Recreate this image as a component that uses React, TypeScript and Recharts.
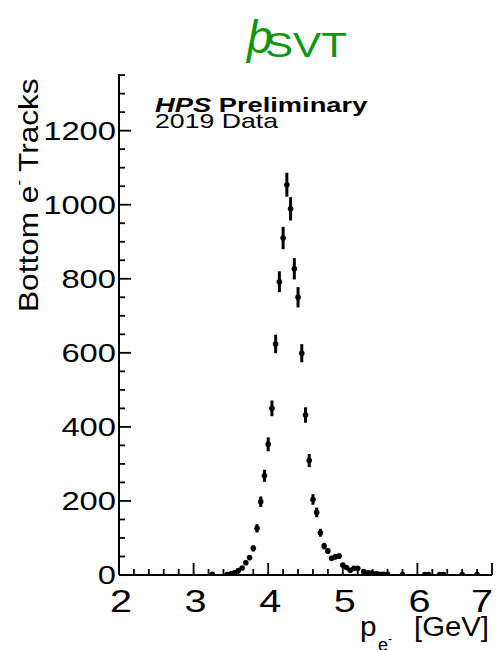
import { ScatterChart, Scatter, XAxis, YAxis, ErrorBar } from 'recharts';

// Bin centres of the electron momentum histogram [GeV]
const momentum = [
  3.25, 3.45, 3.5, 3.55, 3.6, 3.65, 3.7, 3.75, 3.8, 3.85, 3.9, 3.95,
  4.0, 4.05, 4.1, 4.15, 4.2, 4.25, 4.3, 4.35, 4.4, 4.45, 4.5, 4.55,
  4.6, 4.65, 4.7, 4.75, 4.8, 4.85, 4.9, 4.95, 5.0, 5.05, 5.1, 5.15,
  5.2, 5.28, 5.34, 5.39, 5.45, 5.5, 5.55, 5.6, 5.8, 6.1, 6.15, 6.3,
  6.35, 6.6, 6.8,
];

// Bottom-half e- track counts per bin
const tracks = [
  2, 1, 3, 6, 12, 19, 33, 47, 72, 126, 198, 268,
  353, 450, 624, 792, 910, 1054, 989, 827, 750, 599, 432, 309,
  204, 169, 114, 78, 65, 45, 49, 51, 27, 20, 13, 18,
  18, 9, 6, 5, 3, 2, 2, 2, 1, 1, 1, 1,
  1, 1, 1,
];

const xMajor = [2, 3, 4, 5, 6, 7];
const yMajor = [0, 200, 400, 600, 800, 1000, 1200];
const X_DOMAIN: [number, number] = [2, 7];
const Y_DOMAIN: [number, number] = [0, 1353];

// minor ticks every 0.2 GeV and every 50 tracks
const xTicks = Array.from({ length: 26 }, (_, i) => Math.round((2 + i * 0.2) * 10) / 10);
const yTicks = Array.from({ length: 28 }, (_, i) => i * 50);

// Poisson errors, as the histogram draws them
const points = momentum.map((p, i) => ({ p, n: tracks[i], err: Math.sqrt(tracks[i]) }));

const FONT = '"Liberation Sans", Arial, Helvetica, sans-serif';
const GREEN = '#0f960f';
const TICK_W = 1.8;
const MAJOR_LEN = 12;
const MINOR_LEN = 6;

const isMajorX = (v: number) => xMajor.includes(v);
const isMajorY = (v: number) => yMajor.includes(v);

const BottomTick = (props: any) => {
  const { x, y, payload } = props;
  const v = payload.value;
  const major = isMajorX(v);
  const last = v === 7;
  return (
    <g>
      <line x1={x} x2={x} y1={y} y2={y - (major ? MAJOR_LEN : MINOR_LEN)} stroke="#000" strokeWidth={TICK_W} />
      {major && (
        <text
          x={last ? x + 1 : x + 2}
          y={y + 37}
          textAnchor={last ? 'end' : 'middle'}
          fontSize={32}
          fontFamily={FONT}
          fill="#000"
          textLength={22}
          lengthAdjust="spacingAndGlyphs"
        >
          {v}
        </text>
      )}
    </g>
  );
};

const TopTick = (props: any) => {
  const { x, y, payload } = props;
  const len = isMajorX(payload.value) ? MAJOR_LEN : MINOR_LEN;
  return <line x1={x} x2={x} y1={y} y2={y + len} stroke="#000" strokeWidth={TICK_W} />;
};

const LeftTick = (props: any) => {
  const { x, y, payload } = props;
  const v = payload.value;
  const major = isMajorY(v);
  const label = String(v);
  return (
    <g>
      <line x1={x} x2={x + (major ? MAJOR_LEN : MINOR_LEN)} y1={y} y2={y} stroke="#000" strokeWidth={TICK_W} />
      {major && (
        <text
          x={x - 3}
          y={y + 9}
          textAnchor="end"
          fontSize={26}
          fontFamily={FONT}
          fill="#000"
          textLength={label.length * 18.2}
          lengthAdjust="spacingAndGlyphs"
        >
          {label}
        </text>
      )}
    </g>
  );
};

const RightTick = (props: any) => {
  const { x, y, payload } = props;
  const len = isMajorY(payload.value) ? MAJOR_LEN : MINOR_LEN;
  return <line x1={x} x2={x - len} y1={y} y2={y} stroke="#000" strokeWidth={TICK_W} />;
};

const Marker = (props: any) => <circle cx={props.cx} cy={props.cy} r={2.8} fill="#000" />;

const axisLine = { stroke: '#000', strokeWidth: 2 };

const Labels = () => (
  <svg
    width={500}
    height={650}
    style={{ position: 'absolute', left: 0, top: 0, pointerEvents: 'none' }}
    fontFamily={FONT}
  >
    {/* title */}
    <text x={247} y={53} fontSize={46} fontStyle="italic" fill={GREEN}>
      þ
    </text>
    <text x={265} y={57} fontSize={35} fill={GREEN} textLength={82} lengthAdjust="spacingAndGlyphs">
      SVT
    </text>

    {/* experiment tag */}
    <text transform="translate(155,112) scale(1.3,1)" fontSize={21} fontWeight="bold" fill="#000">
      <tspan fontStyle="italic">HPS</tspan> Preliminary
    </text>
    <text transform="translate(155,128) scale(1.27,1)" fontSize={21} fill="#000">
      2019 Data
    </text>

    {/* y title */}
    <text transform="translate(38,312) rotate(-90) scale(1.17,1)" fontSize={27} fill="#000">
      Bottom e<tspan fontSize={14} dy={-14}>-</tspan>
      <tspan dy={14}> Tracks</tspan>
    </text>

    {/* x title */}
    <text transform="translate(360,636) scale(1.1,1)" fontSize={27} fill="#000">
      p
    </text>
    <text x={378} y={651} fontSize={18} fill="#000">
      e
    </text>
    <text x={388} y={643} fontSize={12} fill="#000">
      -
    </text>
    <text x={489} y={636} textAnchor="end" fontSize={27} fill="#000" textLength={75} lengthAdjust="spacingAndGlyphs">
      [GeV]
    </text>
  </svg>
);

export default function App() {
  return (
    <div style={{ position: 'absolute', left: 0, top: 0, width: 500, height: 650, background: '#fff' }}>
      <ScatterChart width={500} height={650} margin={{ top: 74, right: 8, bottom: 35, left: 59 }}>
        <XAxis
          xAxisId="bottom"
          type="number"
          dataKey="p"
          domain={X_DOMAIN}
          ticks={xTicks}
          interval={0}
          allowDataOverflow
          height={40}
          tickSize={0}
          tickMargin={0}
          tickLine={false}
          axisLine={axisLine}
          tick={<BottomTick />}
        />
        <XAxis
          xAxisId="top"
          orientation="top"
          type="number"
          dataKey="p"
          domain={X_DOMAIN}
          ticks={xTicks}
          interval={0}
          allowDataOverflow
          height={0}
          tickSize={0}
          tickMargin={0}
          tickLine={false}
          axisLine={axisLine}
          tick={<TopTick />}
        />
        <YAxis
          yAxisId="left"
          type="number"
          dataKey="n"
          domain={Y_DOMAIN}
          ticks={yTicks}
          interval={0}
          allowDataOverflow
          width={60}
          tickSize={0}
          tickMargin={0}
          tickLine={false}
          axisLine={axisLine}
          tick={<LeftTick />}
        />
        <YAxis
          yAxisId="right"
          orientation="right"
          type="number"
          dataKey="n"
          domain={Y_DOMAIN}
          ticks={yTicks}
          interval={0}
          allowDataOverflow
          width={0}
          tickSize={0}
          tickMargin={0}
          tickLine={false}
          axisLine={axisLine}
          tick={<RightTick />}
        />
        <Scatter
          xAxisId="bottom"
          yAxisId="left"
          data={points}
          shape={<Marker />}
          isAnimationActive={false}
        >
          <ErrorBar dataKey="err" direction="y" width={0} stroke="#000" strokeWidth={3} />
        </Scatter>
      </ScatterChart>
      <Labels />
    </div>
  );
}
